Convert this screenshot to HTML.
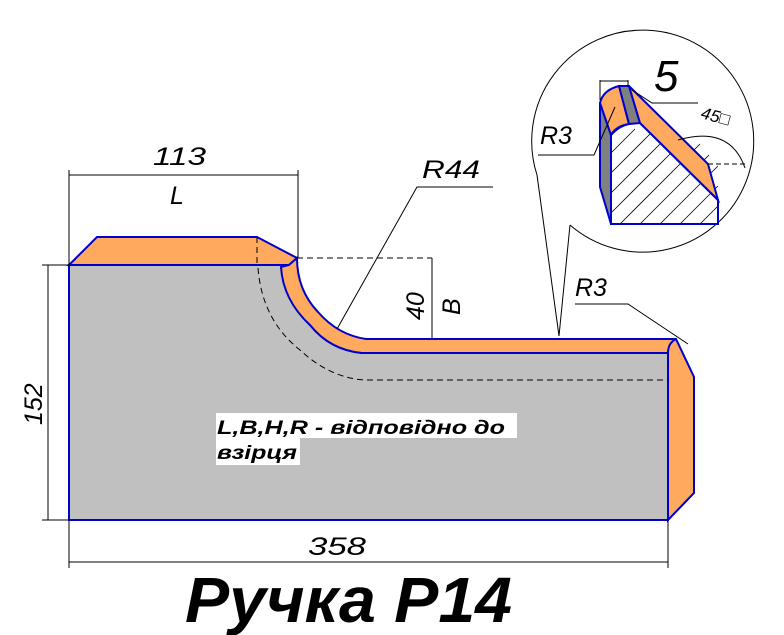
<!DOCTYPE html>
<html><head><meta charset="utf-8"><style>
html,body{margin:0;padding:0;background:#fff;}
svg{display:block;}
text{font-family:"Liberation Sans",sans-serif;font-style:italic;fill:#000;}
</style></head><body>
<svg width="784" height="635" viewBox="0 0 784 635" xmlns="http://www.w3.org/2000/svg">
<path d="M69,265 L289,265 Q283,300 310,325 Q330,350 362,353 L668,353 L668,520 L69,520 Z" fill="#c0c0c0" stroke="#0000cc" stroke-width="2"/>
<path d="M69,265 L97,237 L257,237 L297,258 L289,265 Z" fill="#ffaa5e" stroke="#0000cc" stroke-width="2"/>
<path d="M297,258 Q297,290 318,312 Q338,335 366,339 L668,339 L675,339 L668,353 L362,353 Q330,350 310,325 Q283,300 281,267 L289,265 Z" fill="#ffaa5e" stroke="#0000cc" stroke-width="2"/>
<path d="M668,353 Q668,343 676,339 L694,377 L694,493 L668,520 Z" fill="#ffaa5e" stroke="#0000cc" stroke-width="2"/>
<path d="M297,258 L432,258 M257,237 L257,265 M258,268 Q262,320 300,350 Q330,378 365,380 L668,380" fill="none" stroke="#000" stroke-width="1" stroke-dasharray="6,4"/>
<g stroke="#000" stroke-width="1" fill="none">
<path d="M69,265 L69,170 M298,258 L298,170 M69,175 L298,175"/>
<path d="M69,265 L42,265 M69,520 L42,520 M48,265 L48,520"/>
<path d="M69,520 L69,568 M668,520 L668,568 M69,562 L668,562"/>
<path d="M432,258 L432,338"/>
<path d="M493,187 L417,187 L337,329"/>
<path d="M575,304 L628,304 L688,344"/>
<path d="M537,175 L559,336 L570,225"/>
<path d="M570,225 A111,111 0 1 0 537,175"/>
</g>
<path d="M611,224 L611,135 Q622,122 640,123 L718,200 L718,224 Z" fill="#fff" stroke="#0000cc" stroke-width="2"/>
<g stroke="#000" stroke-width="0.8">
<path d="M620,224 L700,144 M640,224 L709,155 M660,224 L718,166 M680,224 L718,186 M700,224 L718,206 M611,213 L680,144 M611,193 L670,134 M611,173 L655,129 M611,153 L635,129"/>
</g>
<path d="M611,224 L718,224 L718,200 L640,123 Q622,122 611,135 Z" fill="none" stroke="#0000cc" stroke-width="2"/>
<path d="M600,103 L600,187 L611,224 L611,135 Z" fill="#808080" stroke="#0000cc" stroke-width="2"/>
<path d="M600,103 Q603,90 619,86 L629,124 Q616,126 611,135 Z" fill="#ffaa5e" stroke="#0000cc" stroke-width="2"/>
<path d="M619,86 L629,86 L640,123 L629,124 Z" fill="#808080" stroke="#0000cc" stroke-width="2"/>
<path d="M629,86 L708,164 L718,200 L640,123 Z" fill="#ffaa5e" stroke="#0000cc" stroke-width="2"/>
<g stroke="#000" stroke-width="1" fill="none">
<path d="M600,80 L600,100 M628,80 L628,86 M600,81 L628,81"/>
<path d="M632,90 L652,103 L698,103"/>
<path d="M538,155 L594,155 L615,107"/>
<path d="M678,140 Q730,125 745,168" />
<path d="M708,164 L745,164" stroke-dasharray="5,3"/>
</g>
<rect x="216" y="413" width="301" height="25" fill="#fff"/>
<rect x="216" y="438" width="84" height="27" fill="#fff"/>
<text x="217" y="434" font-size="19" font-weight="bold" textLength="288" lengthAdjust="spacingAndGlyphs">L,B,H,R - відповідно до</text>
<text x="217" y="459" font-size="19" font-weight="bold" textLength="80" lengthAdjust="spacingAndGlyphs">взірця</text>
<text x="153" y="165" font-size="25" textLength="53" lengthAdjust="spacingAndGlyphs">113</text>
<text x="170" y="204" font-size="25">L</text>
<text x="422" y="178" font-size="25" textLength="58" lengthAdjust="spacingAndGlyphs">R44</text>
<text x="575" y="296" font-size="25">R3</text>
<text x="540" y="144" font-size="25">R3</text>
<text x="654" y="91" font-size="44" font-style="normal">5</text>
<text x="700" y="118" font-size="17" transform="rotate(15 700 118)">45□</text>
<text x="308" y="555" font-size="25" textLength="58" lengthAdjust="spacingAndGlyphs">358</text>
<text transform="translate(42,425) rotate(-90)" font-size="25">152</text>
<text transform="translate(424,320) rotate(-90)" font-size="25">40</text>
<text transform="translate(460,315) rotate(-90)" font-size="25">B</text>
<text x="185" y="622" font-size="64" font-weight="bold" textLength="327" lengthAdjust="spacingAndGlyphs">Ручка Р14</text>
</svg>
</body></html>
